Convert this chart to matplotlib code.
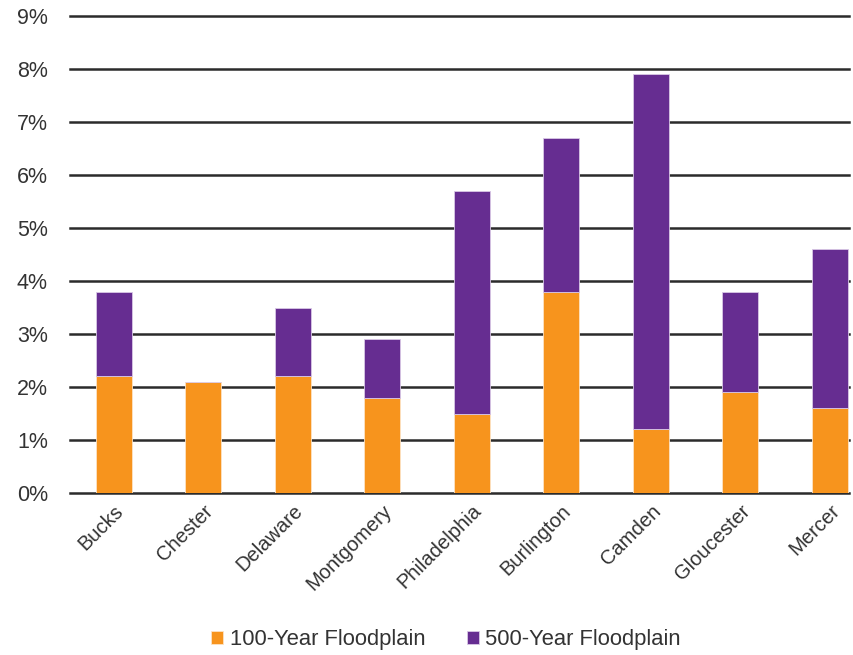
import matplotlib.pyplot as plt
import numpy as np

counties = ["Bucks", "Chester", "Delaware", "Montgomery", "Philadelphia",
            "Burlington", "Camden", "Gloucester", "Mercer"]
# share of land area (%) in each floodplain
flood_100 = [2.2, 2.1, 2.2, 1.8, 1.5, 3.8, 1.2, 1.9, 1.6]
flood_500 = [1.6, 0.0, 1.3, 1.1, 4.2, 2.9, 6.7, 1.9, 3.0]

orange = "#F7941D"
purple = "#662D91"
plt.rcParams['font.family'] = ['Liberation Sans', 'DejaVu Sans']

fig = plt.figure(figsize=(8.54, 6.55), dpi=100)
ax = fig.add_axes([70 / 854, 1 - 493 / 655, 778.6 / 854, 477 / 655])

x = np.arange(len(counties))
ax.bar(x, flood_100, width=0.4, color=orange, edgecolor="#fde3c4", linewidth=0.6,
       label="100-Year Floodplain", zorder=3)
ax.bar(x, flood_500, width=0.4, bottom=flood_100, color=purple, edgecolor="#d9c8e6",
       linewidth=0.6, label="500-Year Floodplain", zorder=3)

ax.set_xlim(-0.49, 8.21)
ax.set_ylim(0, 9)
ax.set_yticks(range(10))
ax.set_yticklabels([f"{i}%" for i in range(10)])
ax.yaxis.grid(True, color="#2b2b2b", linewidth=1.8, zorder=0)
for gl in ax.get_ygridlines():
    gl.set_clip_on(False)
ax.set_axisbelow(True)
for s in ax.spines.values():
    s.set_visible(False)
ax.tick_params(axis='y', length=0, pad=16, labelsize=15.5, labelcolor="#333333")
ax.tick_params(axis='x', length=0, pad=6, labelsize=14.5, labelcolor="#333333")
ax.set_xticks(x)
ax.set_xticklabels(counties, rotation=45, ha='right', rotation_mode='anchor')

fig.legend(loc='center', bbox_to_anchor=(446 / 854, 1 - 640 / 655), ncol=2,
           frameon=False, fontsize=15.8, handlelength=0.55, handleheight=0.55,
           handletextpad=0.3, columnspacing=1.9, labelcolor="#333333")

fig.savefig("out.png", dpi=100)
